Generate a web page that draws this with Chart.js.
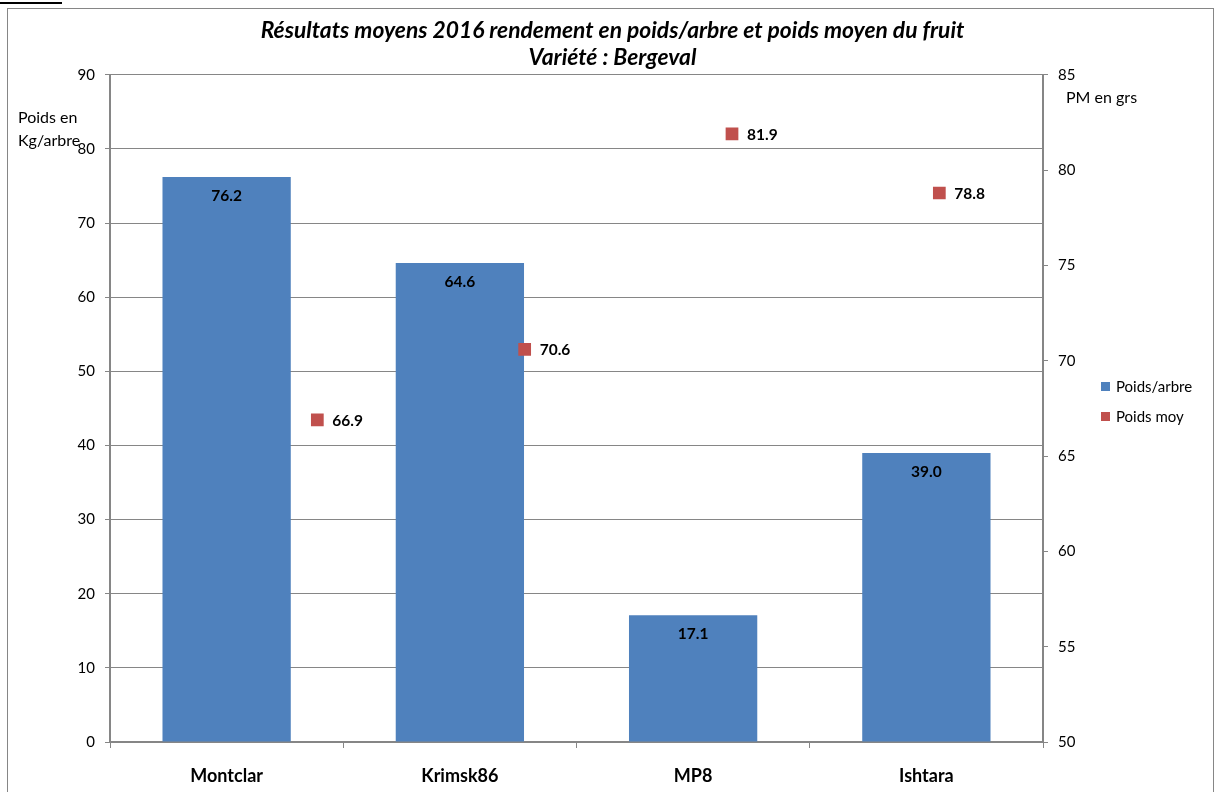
<!DOCTYPE html>
<html>
<head>
<meta charset="utf-8">
<script src="https://cdn.jsdelivr.net/npm/chart.js@4.4.0/dist/chart.umd.min.js"></script>
<style>
  html, body { margin: 0; padding: 0; background: #fff; }
  #wrap { width: 1217px; height: 792px; position: relative; }
</style>
</head>
<body>
<div id="wrap"><canvas id="c" width="1217" height="792"></canvas></div>
<script>
const categories = ['Montclar', 'Krimsk86', 'MP8', 'Ishtara'];
const poidsArbre = [76.2, 64.6, 17.1, 39.0];
const poidsMoy = [66.9, 70.6, 81.9, 78.8];
const poidsMoyX = [1, 2, 3, 4];
const seriesNames = ['Poids/arbre', 'Poids moy'];
const titleLines = ['Résultats moyens 2016 rendement en poids/arbre et poids moyen du fruit', 'Variété : Bergeval'];
const leftAxisTitle = ['Poids en', 'Kg/arbre'];
const rightAxisTitle = 'PM en grs';

const FONT = 'Lato, "Open Sans", sans-serif';
const BLUE = '#4F81BD';
const RED = '#C0504D';
const GRID = '#868686';

const decor = {
  id: 'decor',
  afterDraw(chart) {
    const ctx = chart.ctx;
    ctx.save();
    // outer border
    ctx.strokeStyle = GRID;
    ctx.lineWidth = 1;
    ctx.strokeRect(7.5, 8.5, 1206, 800);
    // small black line top-left
    ctx.fillStyle = '#000';
    ctx.fillRect(0, 2, 62, 2);

    // data labels
    ctx.fillStyle = '#000';
    ctx.font = 'bold 15.5px ' + FONT;
    const m0 = chart.getDatasetMeta(0);
    m0.data.forEach((el, i) => {
      ctx.textAlign = 'center';
      ctx.textBaseline = 'middle';
      ctx.fillText(poidsArbre[i].toFixed(1), el.x, el.y + 19);
    });
    const m1 = chart.getDatasetMeta(1);
    m1.data.forEach((el, i) => {
      ctx.textAlign = 'left';
      ctx.textBaseline = 'middle';
      ctx.fillText(poidsMoy[i].toFixed(1), el.x + 15, el.y + 1);
    });

    // axis titles
    ctx.font = '16px ' + FONT;
    ctx.textAlign = 'left';
    ctx.textBaseline = 'middle';
    ctx.fillText(leftAxisTitle[0], 18, 118);
    ctx.fillText(leftAxisTitle[1], 18, 141);
    ctx.fillText(rightAxisTitle, 1066, 98);

    // legend
    const lg = [[BLUE, seriesNames[0], 387], [RED, seriesNames[1], 417]];
    ctx.font = '15px ' + FONT;
    lg.forEach(([c, t, y]) => {
      ctx.fillStyle = c;
      ctx.fillRect(1101, y - 5, 9, 9);
      ctx.fillStyle = '#000';
      ctx.fillText(t, 1116, y);
    });
    ctx.restore();
  }
};

new Chart(document.getElementById('c'), {
  type: 'bar',
  data: {
    labels: categories,
    datasets: [
      {
        type: 'bar',
        label: seriesNames[0],
        data: poidsArbre,
        backgroundColor: BLUE,
        borderWidth: 0,
        grouped: false,
        categoryPercentage: 1,
        barPercentage: 0.55,
        order: 2,
        xAxisID: 'x',
        yAxisID: 'y'
      },
      {
        type: 'scatter',
        label: seriesNames[1],
        data: poidsMoyX.map((x, i) => ({ x: x, y: poidsMoy[i] })),
        backgroundColor: RED,
        borderColor: RED,
        borderWidth: 0,
        pointStyle: 'rect',
        pointRadius: 9,
        showLine: false,
        order: 1,
        xAxisID: 'x2',
        yAxisID: 'y2'
      }
    ]
  },
  options: {
    responsive: false,
    animation: false,
    layout: { padding: { left: 8, right: 0, top: 8, bottom: 0 } },
    plugins: {
      legend: { display: false },
      tooltip: { enabled: false },
      title: {
        display: true,
        text: titleLines,
        color: '#000',
        font: { family: FONT, size: 22.8, weight: 'bold', style: 'italic', lineHeight: 1.18 },
        padding: { top: 9, bottom: 4 }
      }
    },
    scales: {
      x: {
        type: 'category',
        position: 'bottom',
        grid: { display: true, drawOnChartArea: false, drawTicks: true, tickLength: 6, color: GRID, offset: true },
        border: { display: true, color: GRID, width: 2 },
        ticks: { color: '#000', font: { family: FONT, size: 18, weight: 'bold' }, padding: 17 },
        afterFit(s) { s.height = 50; }
      },
      x2: {
        type: 'linear',
        display: false,
        offset: false,
        grid: { offset: false },
        bounds: 'ticks',
        min: 0,
        max: 4.5
      },
      y: {
        position: 'left',
        min: 0,
        max: 90,
        ticks: { stepSize: 10, color: '#000', font: { family: FONT, size: 15 }, padding: 10 },
        grid: { color: GRID, lineWidth: 1, tickLength: 5 },
        border: { display: true, color: GRID, width: 2 },
        afterFit(s) { s.width = 102; }
      },
      y2: {
        position: 'right',
        min: 50,
        max: 85,
        ticks: { stepSize: 5, color: '#000', font: { family: FONT, size: 15 }, padding: 10 },
        grid: { drawOnChartArea: false, color: GRID, tickLength: 5 },
        border: { display: true, color: GRID, width: 2 },
        afterFit(s) { s.width = 174; }
      }
    }
  },
  plugins: [decor]
});
</script>
</body>
</html>
